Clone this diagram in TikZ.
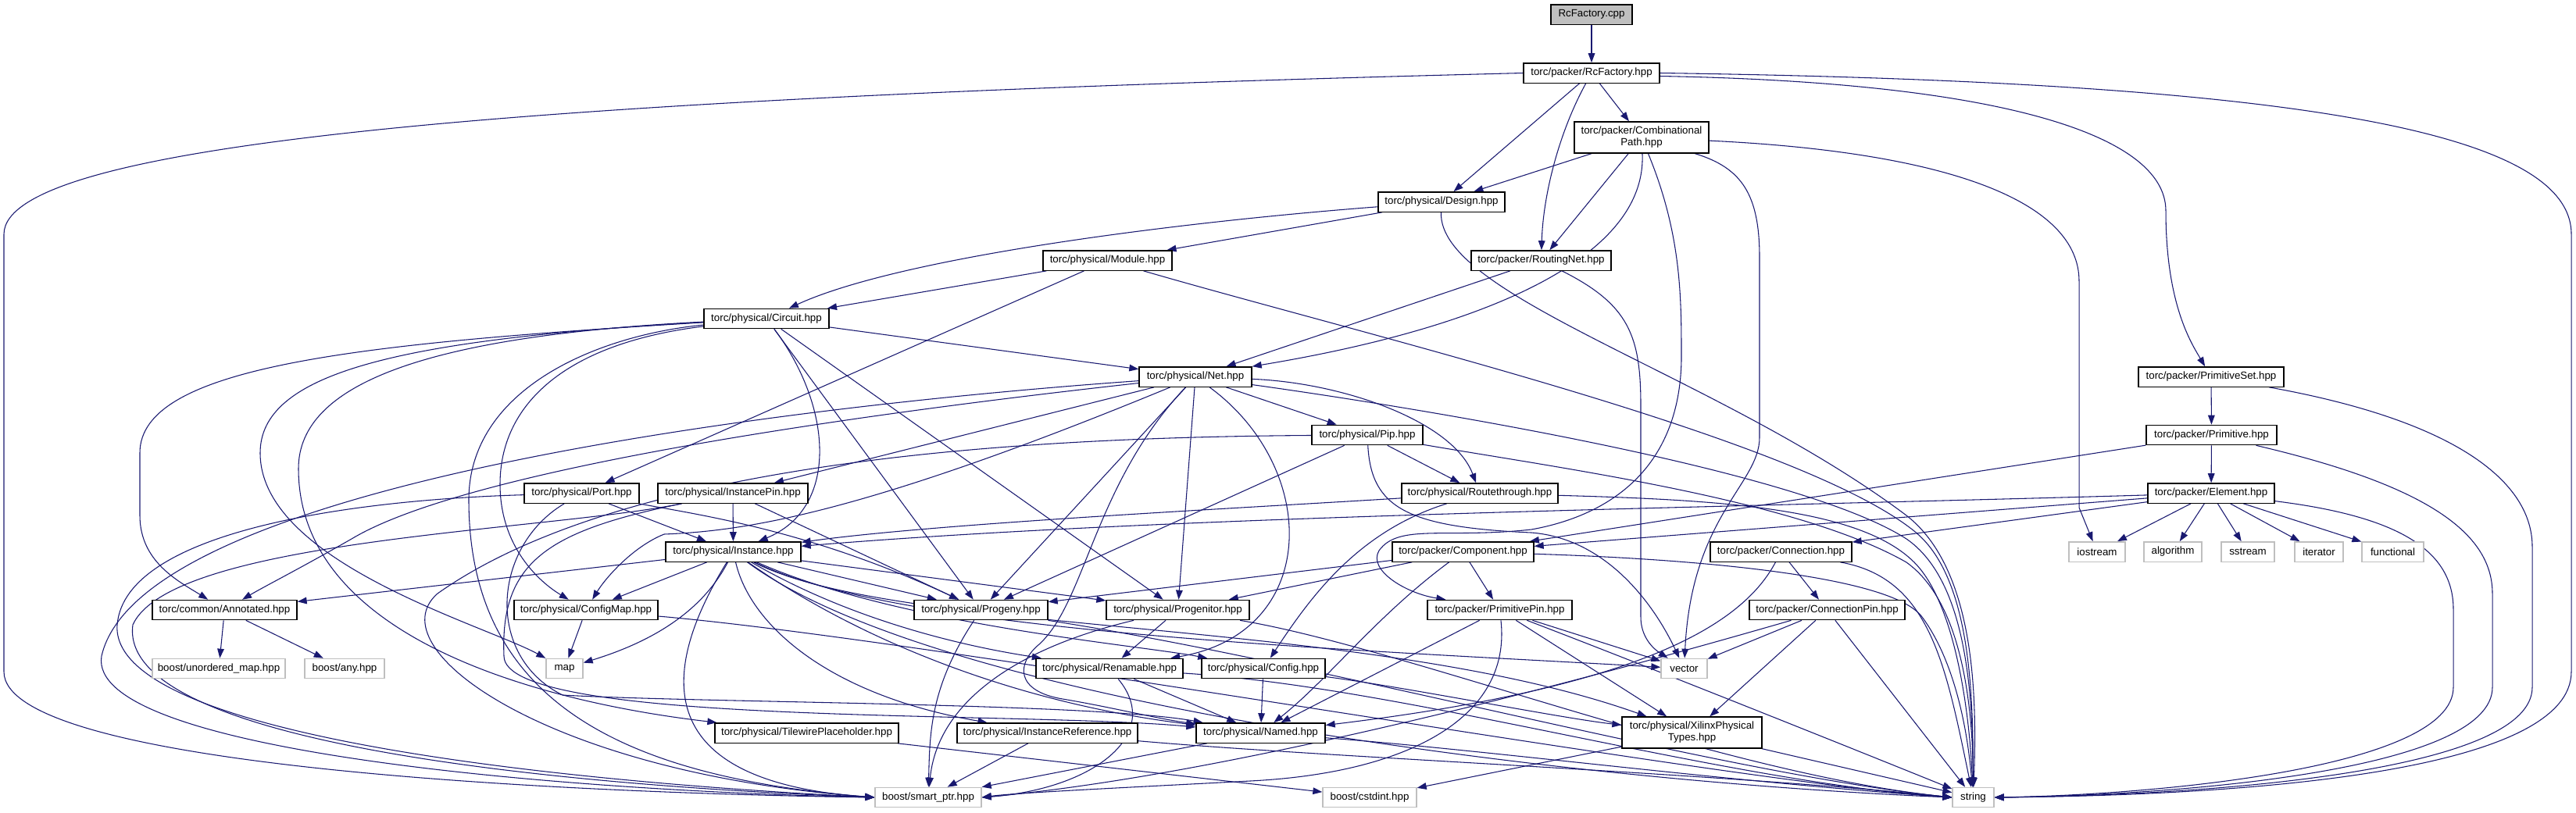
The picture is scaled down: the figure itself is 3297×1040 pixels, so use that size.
\documentclass[tikz,border=0pt]{standalone}
\usepackage{fontspec}
\setmainfont{Liberation Sans}
\usetikzlibrary{arrows.meta}
\definecolor{edgec}{HTML}{191970}
\definecolor{greyb}{HTML}{BFBFBF}
\pgfdeclarelayer{edgelayer}
\pgfsetlayers{edgelayer,main}
\begin{document}
\begin{tikzpicture}[x=0.75pt,y=-0.75pt,
  box/.style={draw=black, line width=1pt, fill=white, minimum height=19pt, inner sep=0pt,
              font=\fontsize{10}{11.25}\selectfont, align=center},
  sys/.style={box, draw=greyb},
  e/.style={draw=edgec, line width=0.8pt, -{Triangle[length=9pt,width=6.5pt]}}]
\useasboundingbox (0,0) rectangle (3297,1040);

% ---------- nodes ----------
\node[box,fill=greyb,minimum width=78pt] (cpp) at (2037,18.5) {RcFactory.cpp};
\node[box,minimum width=130.5pt] (rcf) at (2037,93.5) {torc/packer/RcFactory.hpp};
\node[box,minimum width=129pt,minimum height=30pt] (comb) at (2101,176) {torc/packer/Combinational\\Path.hpp};
\node[box,minimum width=121.5pt] (design) at (1845,258.5) {torc/physical/Design.hpp};
\node[box,minimum width=123.75pt] (module) at (1417.5,333.5) {torc/physical/Module.hpp};
\node[box,minimum width=134.25pt] (rnet) at (1972.5,333.5) {torc/packer/RoutingNet.hpp};
\node[box,minimum width=120pt] (circuit) at (981,408) {torc/physical/Circuit.hpp};
\node[box,minimum width=108pt] (net) at (1530,482.5) {torc/physical/Net.hpp};
\node[box,minimum width=139.5pt] (pset) at (2830,482.5) {torc/packer/PrimitiveSet.hpp};
\node[box,minimum width=106.5pt] (pip) at (1750,557) {torc/physical/Pip.hpp};
\node[box,minimum width=125.25pt] (prim) at (2830.5,557) {torc/packer/Primitive.hpp};
\node[box,minimum width=110.25pt] (port) at (744.5,631.5) {torc/physical/Port.hpp};
\node[box,minimum width=144pt] (ipin) at (938,631.5) {torc/physical/InstancePin.hpp};
\node[box,minimum width=150pt] (rthru) at (1894,631.5) {torc/physical/Routethrough.hpp};
\node[box,minimum width=121.5pt] (elem) at (2830,631.5) {torc/packer/Element.hpp};
\node[box,minimum width=129.75pt] (inst) at (938.5,706.5) {torc/physical/Instance.hpp};
\node[box,minimum width=135.75pt] (comp) at (1872.5,706.5) {torc/packer/Component.hpp};
\node[box,minimum width=135.75pt] (conn) at (2279.5,706.5) {torc/packer/Connection.hpp};
\node[sys,minimum width=54pt] (iostream) at (2684,706.5) {iostream};
\node[sys,minimum width=55.5pt] (algorithm) at (2781,706.5) {algorithm};
\node[sys,minimum width=51pt] (sstream) at (2877,706.5) {sstream};
\node[sys,minimum width=46.5pt] (iterator) at (2968,706.5) {iterator};
\node[sys,minimum width=59.25pt] (functional) at (3062.5,706.5) {functional};
\node[box,minimum width=138.75pt] (annot) at (287.5,781) {torc/common/Annotated.hpp};
\node[box,minimum width=138pt] (cmap) at (750,781) {torc/physical/ConfigMap.hpp};
\node[box,minimum width=128.25pt] (progeny) at (1255.5,781) {torc/physical/Progeny.hpp};
\node[box,minimum width=137.25pt] (progenitor) at (1507.5,781) {torc/physical/Progenitor.hpp};
\node[box,minimum width=138.75pt] (ppin) at (1919.5,781) {torc/packer/PrimitivePin.hpp};
\node[box,minimum width=149.25pt] (cpin) at (2338.5,781) {torc/packer/ConnectionPin.hpp};
\node[sys,minimum width=127.5pt] (umap) at (280,856) {boost/unordered\_map.hpp};
\node[sys,minimum width=76.5pt] (any) at (441,856) {boost/any.hpp};
\node[sys,minimum width=35.25pt] (map) at (722.5,856) {map};
\node[box,minimum width=141pt] (renam) at (1420,856) {torc/physical/Renamable.hpp};
\node[box,minimum width=118.5pt] (config) at (1617,856) {torc/physical/Config.hpp};
\node[sys,minimum width=44.25pt] (vector) at (2155.5,856) {vector};
\node[box,minimum width=176.25pt] (twp) at (1032.5,938.5) {torc/physical/TilewirePlaceholder.hpp};
\node[box,minimum width=173.25pt] (iref) at (1340.5,938.5) {torc/physical/InstanceReference.hpp};
\node[box,minimum width=123.75pt] (named) at (1613.5,938.5) {torc/physical/Named.hpp};
\node[box,minimum width=134.25pt,minimum height=30pt] (xpt) at (2165.5,938) {torc/physical/XilinxPhysical\\Types.hpp};
\node[sys,minimum width=102pt] (smart) at (1188,1021) {boost/smart\_ptr.hpp};
\node[sys,minimum width=90pt] (cstdint) at (1753,1021) {boost/cstdint.hpp};
\node[sys,minimum width=39.75pt] (string) at (2525.5,1021) {string};

% ---------- edges ----------
\begin{pgfonlayer}{edgelayer}
\draw[e] (cpp) -- (rcf);
\draw[e] (rcf) -- (comb);
\draw[e] (rcf) -- (design);
\draw[e] (rcf) .. controls (1995,170) and (1975,250) .. (rnet);
\draw[e] ([yshift=-3pt]rcf.east) .. controls (2550,105) and (2772,170) .. (2772,270) .. controls (2772,390) and (2805,440) .. (pset);
\draw[e] (rcf.west) .. controls (700,125) and (5,180) .. (5,300) -- (5,860) .. controls (5,980) and (700,1015) .. (smart.west);
\draw[e] (rcf.east) .. controls (2950,105) and (3291,170) .. (3291,300) -- (3291,860) .. controls (3291,985) and (2900,1018) .. (string.east);

\draw[e] (comb) -- (design);
\draw[e] (comb) -- (rnet);
\draw[e] (comb) .. controls (2108,330) and (1900,420) .. (net.north east);
\draw[e] (comb) .. controls (2152,300) and (2152,380) .. (2152,460) .. controls (2150,600) and (2060,660) .. (1960,678) .. controls (1850,690) and (1790,670) .. (1765,705) .. controls (1750,730) and (1800,760) .. ([xshift=18pt]ppin.north west);
\draw[e] (comb) .. controls (2230,215) and (2252,250) .. (2252,330) -- (2252,560) .. controls (2252,620) and (2165,660) .. (vector);
\draw[e] (comb) .. controls (2500,195) and (2661,260) .. (2661,360) -- (2661,650) -- (iostream);

\draw[e] (design) -- (module);
\draw[e] (design) .. controls (1500,285) and (1150,330) .. (circuit);
\draw[e] (design) .. controls (1840,380) and (2200,480) .. (2440,660) .. controls (2530,730) and (2530,900) .. (string);

\draw[e] (module) -- (circuit);
\draw[e] (module) -- (port);
\draw[e] (module) .. controls (1750,430) and (2300,560) .. (2450,680) .. controls (2525,740) and (2525,900) .. (string);

\draw[e] (rnet) -- (net);
\draw[e] (rnet) .. controls (2085,390) and (2100,430) .. (2100,520) -- (2100,790) .. controls (2100,815) and (2115,830) .. (vector);

\draw[e] (circuit) -- (net);
\draw[e] (circuit) .. controls (1065,520) and (1075,650) .. (inst);
\draw[e] (circuit) -- (progeny);
\draw[e] (circuit) -- (progenitor);
\draw[e] (circuit) .. controls (720,440) and (640,520) .. (640,620) .. controls (640,700) and (690,745) .. (cmap);
\draw[e] (circuit) .. controls (450,440) and (179,470) .. (179,580) -- (179,660) .. controls (179,720) and (230,745) .. (annot);
\draw[e] (circuit) .. controls (500,435) and (333,480) .. (333,580) .. controls (333,720) and (620,800) .. (map);
\draw[e] (circuit) .. controls (550,430) and (382,490) .. (382,600) .. controls (382,820) and (700,900) .. (twp);
\draw[e] (circuit) .. controls (760,430) and (600,500) .. (600,640) .. controls (600,900) and (800,995) .. (smart.west);

\draw[e] (net) -- (pip);
\draw[e] (net) .. controls (1720,490) and (1860,540) .. (rthru);
\draw[e] (net) -- (ipin);
\draw[e] (net) -- (progeny);
\draw[e] (net) -- (progenitor);
\draw[e] (net) .. controls (1690,600) and (1690,810) .. (renam);
\draw[e] (net) .. controls (1400,620) and (1390,770) .. (1330,825) .. controls (1300,850) and (1300,885) .. (1360,895) .. controls (1420,905) and (1480,920) .. (named);
\draw[e] (net) .. controls (1100,660) and (950,680) .. (850,684) .. controls (810,700) and (775,740) .. (cmap);
\draw[e] (net) .. controls (1100,530) and (600,600) .. (450,690) .. controls (380,730) and (340,750) .. (annot);
\draw[e] (net) .. controls (1000,520) and (180,620) .. (130,840) .. controls (110,960) and (700,1012) .. (smart.west);
\draw[e] (net) .. controls (1800,520) and (2300,600) .. (2440,690) .. controls (2520,745) and (2525,900) .. (string);

\draw[e] (pset) -- (prim);
\draw[e] (pset) .. controls (3150,540) and (3241,620) .. (3241,700) -- (3241,880) .. controls (3241,985) and (2850,1018) .. (string.east);

\draw[e] (pip) -- (rthru);
\draw[e] (pip) -- (progeny);
\draw[e] (pip) .. controls (1300,560) and (800,590) .. (560,760) .. controls (480,830) and (700,990) .. (smart.west);
\draw[e] (pip) .. controls (1755,650) and (1800,675) .. (1960,682) .. controls (2060,690) and (2120,780) .. (vector);
\draw[e] (pip) .. controls (2000,600) and (2300,640) .. (2440,720) .. controls (2510,770) and (2525,900) .. (string);

\draw[e] (prim) -- (elem);
\draw[e] (prim) -- (comp);
\draw[e] (prim) .. controls (3100,620) and (3190,680) .. (3190,760) -- (3190,880) .. controls (3190,985) and (2800,1018) .. (string.east);

\draw[e] (port) -- (inst);
\draw[e] (port) .. controls (900,660) and (1040,680) .. (progeny);
\draw[e] (port) .. controls (630,700) and (620,840) .. (720,890) .. controls (900,900) and (1400,900) .. (named);
\draw[e] (port) .. controls (450,640) and (160,680) .. (150,800) .. controls (140,940) and (700,1000) .. (smart.west);

\draw[e] (ipin) -- (inst);
\draw[e] (ipin) -- (progeny);
\draw[e] (ipin) .. controls (700,680) and (220,690) .. (170,800) .. controls (150,950) and (700,1005) .. (smart.west);
\draw[e] (ipin) .. controls (700,680) and (640,720) .. (645,840) .. controls (645,930) and (1300,910) .. (named);

\draw[e] (rthru) .. controls (1600,650) and (1200,670) .. (inst);
\draw[e] (rthru) .. controls (1740,680) and (1680,760) .. (config);
\draw[e] (rthru) .. controls (2200,640) and (2380,650) .. (2450,720) .. controls (2500,770) and (2520,900) .. (string);

\draw[e] (elem) -- (comp);
\draw[e] (elem) -- (conn);
\draw[e] (elem) -- (iostream);
\draw[e] (elem) -- (algorithm);
\draw[e] (elem) -- (sstream);
\draw[e] (elem) -- (iterator);
\draw[e] (elem) -- (functional);
\draw[e] (elem) .. controls (2200,650) and (1500,660) .. (inst);
\draw[e] (elem) .. controls (3060,660) and (3140,700) .. (3140,780) -- (3140,880) .. controls (3140,985) and (2750,1018) .. (string.east);

\draw[e] (inst) -- (annot);
\draw[e] (inst) -- (cmap);
\draw[e] (inst) .. controls (900,780) and (840,820) .. (map);
\draw[e] (inst) .. controls (850,850) and (820,1000) .. (smart.west);
\draw[e] (inst) .. controls (960,800) and (1060,890) .. (iref);
\draw[e] (inst) .. controls (1100,820) and (1300,900) .. (named);
\draw[e] (inst) -- (progeny);
\draw[e] (inst) -- (progenitor);
\draw[e] (inst) .. controls (1100,800) and (1250,830) .. (renam);
\draw[e] (inst) .. controls (1150,800) and (1450,825) .. (config);
\draw[e] (inst) .. controls (1150,815) and (1750,790) .. (xpt);
\draw[e] (inst) .. controls (1150,810) and (1700,830) .. (vector);
\draw[e] (inst) .. controls (1200,900) and (2000,1000) .. (string.west);

\draw[e] (comp) -- (progeny);
\draw[e] (comp) -- (progenitor);
\draw[e] (comp) .. controls (1760,790) and (1700,870) .. (named);
\draw[e] (comp) -- (ppin);
\draw[e] (comp) .. controls (2150,715) and (2420,735) .. (2460,790) .. controls (2490,830) and (2515,900) .. (string);

\draw[e] (conn) -- (cpin);
\draw[e] (conn) .. controls (2230,800) and (2100,880) .. (named);
\draw[e] (conn) .. controls (2470,740) and (2490,850) .. (string);

\draw[e] (cpin) -- (vector);
\draw[e] (cpin) -- (xpt);
\draw[e] (cpin) .. controls (2100,850) and (1600,990) .. (smart.east);
\draw[e] (cpin) -- (string);

\draw[e] (ppin) -- (named);
\draw[e] (ppin) -- (vector);
\draw[e] (ppin) -- (xpt);
\draw[e] (ppin) .. controls (1935,920) and (1800,990) .. (1600,1000) .. controls (1450,1008) and (1300,1015) .. (smart.east);
\draw[e] (ppin) .. controls (2100,850) and (2350,950) .. (string);

\draw[e] (progeny) .. controls (1190,880) and (1190,940) .. (smart);
\draw[e] (progeny) .. controls (1700,850) and (2200,990) .. (string.west);
\draw[e] (progenitor) -- (renam);
\draw[e] (progenitor) .. controls (1300,830) and (1200,900) .. (smart);
\draw[e] (progenitor) .. controls (1800,830) and (2200,990) .. (string.west);
\draw[e] (renam) -- (named);
\draw[e] (renam) .. controls (1490,940) and (1400,1010) .. (smart.east);
\draw[e] (renam) .. controls (1800,880) and (2200,1000) .. (string.west);
\draw[e] (config) -- (named);
\draw[e] (config) .. controls (1800,880) and (2000,920) .. (xpt);
\draw[e] (iref) -- (smart);
\draw[e] (iref) .. controls (1700,970) and (2200,990) .. (string.west);
\draw[e] (named) -- (smart);
\draw[e] (named) .. controls (1900,960) and (2200,1000) .. (string.west);
\draw[e] (xpt) -- (cstdint);
\draw[e] (xpt) -- (string);
\draw[e] (twp) -- (cstdint);
\draw[e] (annot) -- (umap);
\draw[e] (annot) -- (any);
\draw[e] (cmap) -- (map);
\draw[e] (cmap) .. controls (1200,820) and (2200,1000) .. (string.west);
\end{pgfonlayer}
\end{tikzpicture}
\end{document}
